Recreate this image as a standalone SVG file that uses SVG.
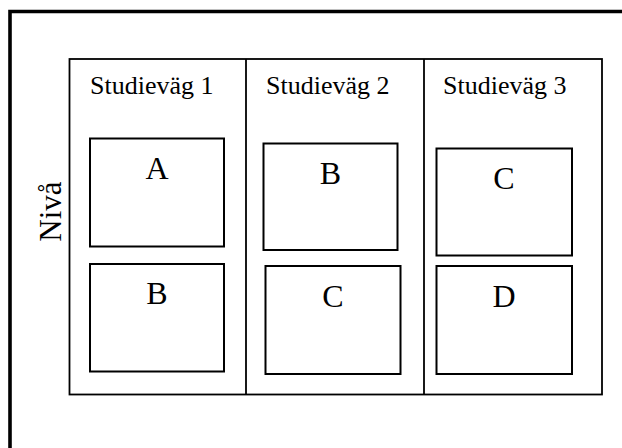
<svg xmlns="http://www.w3.org/2000/svg" width="622" height="448" viewBox="0 0 622 448">
<style>
.box{fill:#fff;stroke:#000;stroke-width:2}
.ln{fill:none;stroke:#000;stroke-width:1.8}
.hd{font-family:"Liberation Serif","Times New Roman",serif;font-size:26px;fill:#000}
.lt{font-family:"Liberation Serif","Times New Roman",serif;font-size:32px;fill:#000;text-anchor:middle}
</style>
<rect x="0" y="0" width="622" height="448" fill="#fff"/>
<g id="outer">
<path d="M10,460 V11.5 H630" fill="none" stroke="#000" stroke-width="3.6"/>
</g>
<g id="frame">
<rect class="ln" x="69.5" y="59" width="532.5" height="335.5"/>
<line class="ln" x1="246" y1="59" x2="246" y2="394.5"/>
<line class="ln" x1="424" y1="59" x2="424" y2="394.5"/>
</g>
<g id="axis-label">
<text class="hd" style="font-size:31px;text-anchor:middle" transform="translate(60.5,211.5) rotate(-90)">Nivå</text>
</g>
<g id="col1-header"><text class="hd" x="90" y="94">Studieväg 1</text></g>
<g id="col2-header"><text class="hd" x="266" y="94">Studieväg 2</text></g>
<g id="col3-header"><text class="hd" x="443" y="94">Studieväg 3</text></g>
<g id="c1-A"><rect class="box" x="90" y="138.5" width="134" height="108"/><text class="lt" x="157" y="178.5">A</text></g>
<g id="c1-B"><rect class="box" x="90" y="264" width="134" height="107.5"/><text class="lt" x="157" y="304">B</text></g>
<g id="c2-B"><rect class="box" x="263.5" y="143.5" width="134" height="106.5"/><text class="lt" x="330.5" y="184">B</text></g>
<g id="c2-C"><rect class="box" x="265.5" y="266" width="135" height="108"/><text class="lt" x="333" y="306.5">C</text></g>
<g id="c3-C"><rect class="box" x="436.5" y="148.5" width="135.5" height="107"/><text class="lt" x="504" y="189">C</text></g>
<g id="c3-D"><rect class="box" x="436.5" y="266" width="135.5" height="108"/><text class="lt" x="504" y="306.5">D</text></g>
<g id="connectors"></g>
</svg>
